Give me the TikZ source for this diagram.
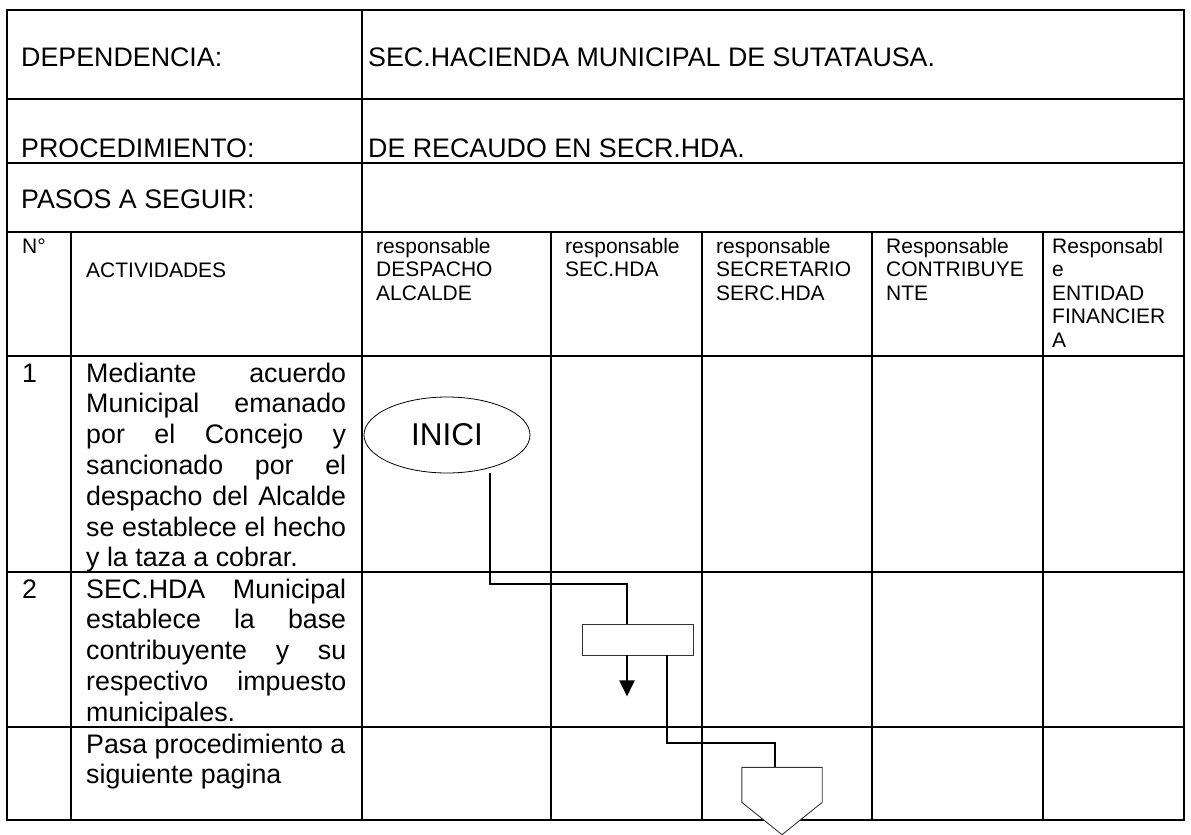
\documentclass[tikz,border=0pt]{standalone}
\usepackage{fontspec}
\setmainfont{Liberation Sans}
\usetikzlibrary{arrows.meta,calc,shapes.geometric}
\newcommand\fbody{\fontsize{26.8}{30.8}\selectfont}
\newcommand\fhead{\fontsize{21}{23.5}\selectfont}
\newcommand\finici{\fontsize{31.5}{36}\selectfont}
\newcommand\jl[1]{\makebox[260pt][s]{#1}}
\newcommand\lines[1]{\begin{tabular}[t]{@{}l@{}}#1\end{tabular}}
\begin{document}
\begin{tikzpicture}[x=1pt,y=-1pt,
  grid/.style={line width=2pt,line cap=rect},
  txt/.style={anchor=base west,inner sep=0pt,font=\fbody},
  hd/.style={anchor=base west,inner sep=0pt,font=\fhead},
  conn/.style={line width=2pt},
  shp/.style={draw=black!80,line width=0.9pt,fill=white}]
\useasboundingbox (0,0) rectangle (1191,835);
% table
\draw[grid] (7,10) rectangle (1184,820);
\foreach \y in {99,163,232,356,572,727} \draw[grid] (7,\y) -- (1184,\y);
\draw[grid] (362,10) -- (362,820);
\foreach \x in {71,551,702,872,1043} \draw[grid] (\x,232) -- (\x,820);
% top texts
\node[txt] (dep) at (21,66) {DEPENDENCIA:};
\node[txt] (depv) at (368,66) {SEC.HACIENDA MUNICIPAL DE SUTATAUSA.};
\node[txt] (procl) at (21,157) {PROCEDIMIENTO:};
\node[txt] (procv) at (368,157) {DE RECAUDO EN SECR.HDA.};
\node[txt] (pasos) at (21,208) {PASOS A SEGUIR:};
% header
\node[hd] (hn) at (22,253) {N°};
\node[hd] (hact) at (86,277) {ACTIVIDADES};
\node[hd] (h1) at (376,253) {\lines{responsable\\DESPACHO\\ALCALDE}};
\node[hd] (h2) at (565,253) {\lines{responsable\\SEC.HDA}};
\node[hd] (h3) at (716,253) {\lines{responsable\\SECRETARIO\\SERC.HDA}};
\node[hd] (h4) at (886,253) {\lines{Responsable\\CONTRIBUYE\\NTE}};
\node[hd] (h5) at (1052,253) {\lines{Responsabl\\e\\ENTIDAD\\FINANCIER\\A}};
% rows
\node[txt] (n1) at (22,382) {1};
\node[txt] (a1) at (86,382) {\lines{\jl{Mediante acuerdo}\\\jl{Municipal emanado}\\\jl{por el Concejo y}\\\jl{sancionado por el}\\\jl{despacho del Alcalde}\\\jl{se establece el hecho}\\y la taza a cobrar.}};
\node[txt] (n2) at (22,598) {2};
\node[txt] (a2) at (86,598) {\lines{\jl{SEC.HDA Municipal}\\\jl{establece la base}\\\jl{contribuyente y su}\\\jl{respectivo impuesto}\\municipales.}};
\node[txt] (a3) at (86,753) {\lines{Pasa procedimiento a\\siguiente pagina}};
% flow shapes
\node[ellipse,draw,line width=0.8pt,minimum width=166pt,minimum height=76pt,inner sep=0pt,font=\finici] (inici) at (447,435) {INICI};
\node[shp,minimum width=111pt,minimum height=31pt,inner sep=0pt] (proc) at (637.5,639.5) {};
\node[minimum width=80pt,minimum height=67pt,inner sep=0pt] (offpg) at (782,801) {};
% connectors
\draw[conn] ($(inici.south)+(43,0)$) |- ($(proc.north)+(-10.5,-40)$) -- ($(proc.north)+(-10.5,0)$);
\draw[conn,-{Triangle[width=15pt,length=16pt]}] ($(proc.south)+(-10.5,0)$) -- ++(0,41);
\draw[conn] ($(proc.south)+(29.5,0)$) |- ($(offpg.north)+(-7,-24)$) -- ($(offpg.north)+(-7,0)$);
% off-page connector
\draw[shp] (offpg.north west) -- (offpg.north east) -- ($(offpg.north east)+(0,35)$) -- (offpg.south) -- ($(offpg.north west)+(0,35)$) -- cycle;
\end{tikzpicture}
\end{document}
